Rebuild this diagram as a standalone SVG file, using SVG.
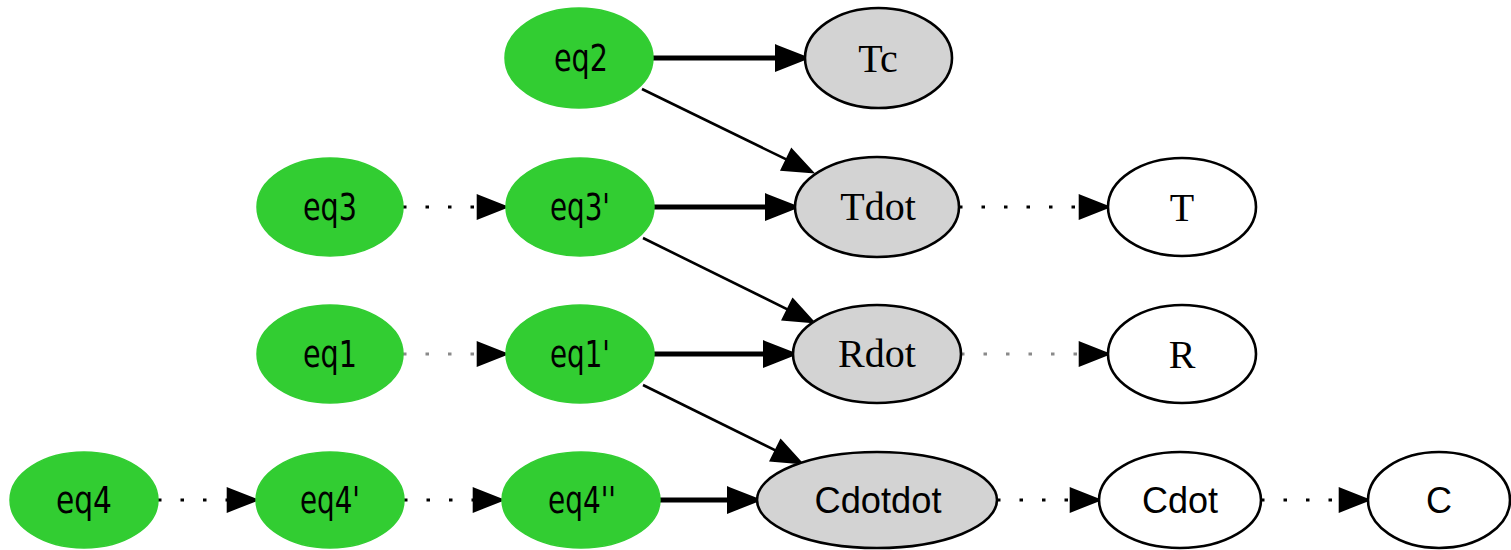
<svg xmlns="http://www.w3.org/2000/svg" width="1511" height="550" viewBox="0 0 1511 550">
  <style>
    .eq ellipse { fill: #32cd32; stroke: #32cd32; stroke-width: 1.5; }
    .calc ellipse { fill: #d3d3d3; stroke: #000; stroke-width: 2.6; }
    .state ellipse { fill: #fff; stroke: #000; stroke-width: 2.6; }
    .eq text { font-family: "DejaVu Sans Condensed", "Liberation Sans", sans-serif; font-stretch: condensed; font-size: 38px; fill: #000; text-anchor: middle; }
    .sans text { font-family: "Liberation Sans", Arial, sans-serif; font-size: 36px; fill: #000; text-anchor: middle; }
    .serif text { font-family: "Liberation Serif", "Times New Roman", serif; font-size: 40px; fill: #000; text-anchor: middle; }
    #edges line { stroke: #000; fill: none; }
    #edges .bold { stroke-width: 5.2; marker-end: url(#headBold); }
    #edges .thin { stroke-width: 2.6; marker-end: url(#head); }
    #edges .dot { stroke-width: 3.2; stroke-dasharray: 3.5 19; marker-end: url(#head); }
    #edges .dot.light { stroke: #8a8a8a; }
  </style>
  <defs>
    <marker id="head" markerUnits="userSpaceOnUse" viewBox="-2 -2 32 26" markerWidth="32" markerHeight="26" refX="0" refY="11" orient="auto" overflow="visible">
      <path d="M0,0 L28,11 L0,22 Z" fill="#000" stroke="#000" stroke-width="2.6" stroke-linejoin="miter"/>
    </marker>
    <marker id="headBold" markerUnits="userSpaceOnUse" viewBox="-2 -2 32 26" markerWidth="32" markerHeight="26" refX="0" refY="11" orient="auto" overflow="visible">
      <path d="M0,0 L28,11 L0,22 Z" fill="#000" stroke="#000" stroke-width="4" stroke-linejoin="miter"/>
    </marker>
  </defs>
  <rect width="1511" height="550" fill="#fff"/>

  <!-- connectors -->
  <g id="edges">
    <!-- row 1 -->
    <line class="bold" x1="653" y1="58" x2="777" y2="58"/>
    <line class="thin" x1="642" y1="89" x2="786.8" y2="159.7"/>
    <!-- row 2 -->
    <line class="dot" x1="403" y1="207" x2="478" y2="207"/>
    <line class="bold" x1="654" y1="207" x2="767" y2="207"/>
    <line class="dot" x1="959" y1="207" x2="1080" y2="207"/>
    <line class="thin" x1="643" y1="238" x2="787.9" y2="309.6"/>
    <!-- row 3 -->
    <line class="dot light" x1="403" y1="354" x2="478" y2="354"/>
    <line class="bold" x1="654" y1="354" x2="765" y2="354"/>
    <line class="dot light" x1="961" y1="354" x2="1080" y2="354"/>
    <line class="thin" x1="643" y1="385" x2="775.9" y2="450.6"/>
    <!-- row 4 -->
    <line class="dot" x1="158" y1="500" x2="228" y2="500"/>
    <line class="dot" x1="404" y1="500" x2="474" y2="500"/>
    <line class="bold" x1="660" y1="500" x2="729" y2="500"/>
    <line class="dot" x1="997" y1="500" x2="1071" y2="500"/>
    <line class="dot" x1="1261" y1="500" x2="1340" y2="500"/>
  </g>

  <!-- equation nodes -->
  <g id="eq2" class="eq"><ellipse cx="579" cy="58" rx="74" ry="50"/><text x="581" y="71" textLength="54" lengthAdjust="spacingAndGlyphs">eq2</text></g>
  <g id="eq3" class="eq"><ellipse cx="330" cy="207" rx="73" ry="49"/><text x="330" y="220" textLength="54" lengthAdjust="spacingAndGlyphs">eq3</text></g>
  <g id="eq3p" class="eq"><ellipse cx="580" cy="207" rx="74" ry="49"/><text x="580" y="220" textLength="60" lengthAdjust="spacingAndGlyphs">eq3'</text></g>
  <g id="eq1" class="eq"><ellipse cx="330" cy="354" rx="73" ry="49"/><text x="330" y="367" textLength="54" lengthAdjust="spacingAndGlyphs">eq1</text></g>
  <g id="eq1p" class="eq"><ellipse cx="580" cy="354" rx="74" ry="49"/><text x="580" y="367" textLength="60" lengthAdjust="spacingAndGlyphs">eq1'</text></g>
  <g id="eq4" class="eq"><ellipse cx="84" cy="500" rx="74" ry="48"/><text x="84" y="513" textLength="56" lengthAdjust="spacingAndGlyphs">eq4</text></g>
  <g id="eq4p" class="eq"><ellipse cx="330" cy="500" rx="74" ry="48"/><text x="330" y="513" textLength="60" lengthAdjust="spacingAndGlyphs">eq4'</text></g>
  <g id="eq4pp" class="eq"><ellipse cx="581" cy="500" rx="79" ry="48"/><text x="582" y="513" textLength="68" lengthAdjust="spacingAndGlyphs">eq4''</text></g>

  <!-- derived quantities -->
  <g id="Tc" class="calc serif"><ellipse cx="878.5" cy="58" rx="73.5" ry="50"/><text x="878" y="72">Tc</text></g>
  <g id="Tdot" class="calc serif"><ellipse cx="877" cy="207" rx="82" ry="50"/><text x="878" y="220">Tdot</text></g>
  <g id="Rdot" class="calc serif"><ellipse cx="877" cy="354" rx="84" ry="49"/><text x="877" y="367">Rdot</text></g>
  <g id="Cdotdot" class="calc sans"><ellipse cx="877" cy="500" rx="120" ry="48"/><text x="878" y="513" textLength="127" lengthAdjust="spacingAndGlyphs">Cdotdot</text></g>

  <!-- state variables -->
  <g id="T" class="state serif"><ellipse cx="1182" cy="207" rx="74" ry="49"/><text x="1182" y="221">T</text></g>
  <g id="R" class="state serif"><ellipse cx="1182" cy="354" rx="74" ry="49"/><text x="1182" y="368">R</text></g>
  <g id="Cdot" class="state sans"><ellipse cx="1180" cy="500" rx="81" ry="48"/><text x="1180" y="513">Cdot</text></g>
  <g id="C" class="state sans"><ellipse cx="1439" cy="500" rx="71" ry="48"/><text x="1439" y="513">C</text></g>
</svg>
